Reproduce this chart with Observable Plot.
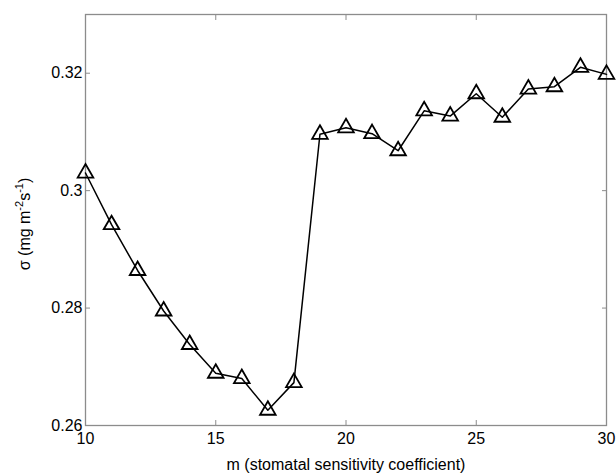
<!DOCTYPE html>
<html><head><meta charset="utf-8">
<script src="https://cdn.jsdelivr.net/npm/d3@7"></script>
<script src="https://cdn.jsdelivr.net/npm/@observablehq/plot@0.6"></script>
<style>html,body{margin:0;padding:0;background:#fff} svg{display:block}</style>
</head><body><div id="chart"></div>
<script>
const mValues = [10,11,12,13,14,15,16,17,18,19,20,21,22,23,24,25,26,27,28,29,30];
const sigmaValues = [0.3030,0.2942,0.2864,0.2795,0.2738,0.2689,0.2680,0.2626,0.2673,0.3096,0.3107,0.3097,0.3068,0.3136,0.3127,0.3165,0.3125,0.3173,0.3177,0.3210,0.3198];
const xTicks = [10,15,20,25,30];
const yTicks = [0.26,0.28,0.30,0.32];
const yTickLabels = ["0.26","0.28","0.3","0.32"];
const xLabel = "m (stomatal sensitivity coefficient)";

const data = mValues.map((v,i)=>({m:v, s:sigmaValues[i]}));
const font = "'Liberation Sans', Arial, sans-serif";
const gray = "#8c8c8c";

const chart = Plot.plot({
  width:616, height:475,
  marginLeft:85, marginRight:10, marginTop:14, marginBottom:50,
  style:{fontFamily:font, fontSize:"16px", color:"#000", background:"#fff"},
  x:{domain:[10,30]},
  y:{domain:[0.26,0.33]},
  marks:[
    Plot.axisX({ticks:xTicks, tickSize:-5, tickPadding:12, stroke:gray, fill:"#000", label:null, tickFormat:d=>String(d)}),
    Plot.axisX({anchor:"top", ticks:xTicks, tickSize:-5, stroke:gray, label:null, tickFormat:()=>""}),
    Plot.axisY({ticks:yTicks, tickSize:-5, tickPadding:8, stroke:gray, fill:"#000", label:null, tickFormat:d=>yTickLabels[yTicks.indexOf(d)]}),
    Plot.axisY({anchor:"right", ticks:yTicks, tickSize:-5, stroke:gray, label:null, tickFormat:()=>""}),
    Plot.frame({stroke:gray, strokeWidth:1.3}),
    Plot.line(data, {x:"m", y:"s", stroke:"#000", strokeWidth:1.5}),
    Plot.dot(data, {x:"m", y:"s", symbol:"triangle", r:5.8, stroke:"#000", strokeWidth:1.8, fill:"none"})
  ]
});

const svg = d3.select(chart);
svg.append("text")
  .attr("x", 346).attr("y", 470)
  .attr("text-anchor","middle")
  .attr("font-family", font).attr("font-size", 16).attr("fill","#000")
  .text(xLabel);

const yl = svg.append("text")
  .attr("transform","translate(30,224) rotate(-90)")
  .attr("text-anchor","middle")
  .attr("font-family", font).attr("font-size", 16).attr("fill","#000");
yl.append("tspan").text("\u03c3 (mg m");
yl.append("tspan").attr("dy",-7).attr("font-size",11).text("-2");
yl.append("tspan").attr("dy",7).text("s");
yl.append("tspan").attr("dy",-7).attr("font-size",11).text("-1");
yl.append("tspan").attr("dy",7).text(")");

document.getElementById("chart").appendChild(chart);
</script>
</body></html>
